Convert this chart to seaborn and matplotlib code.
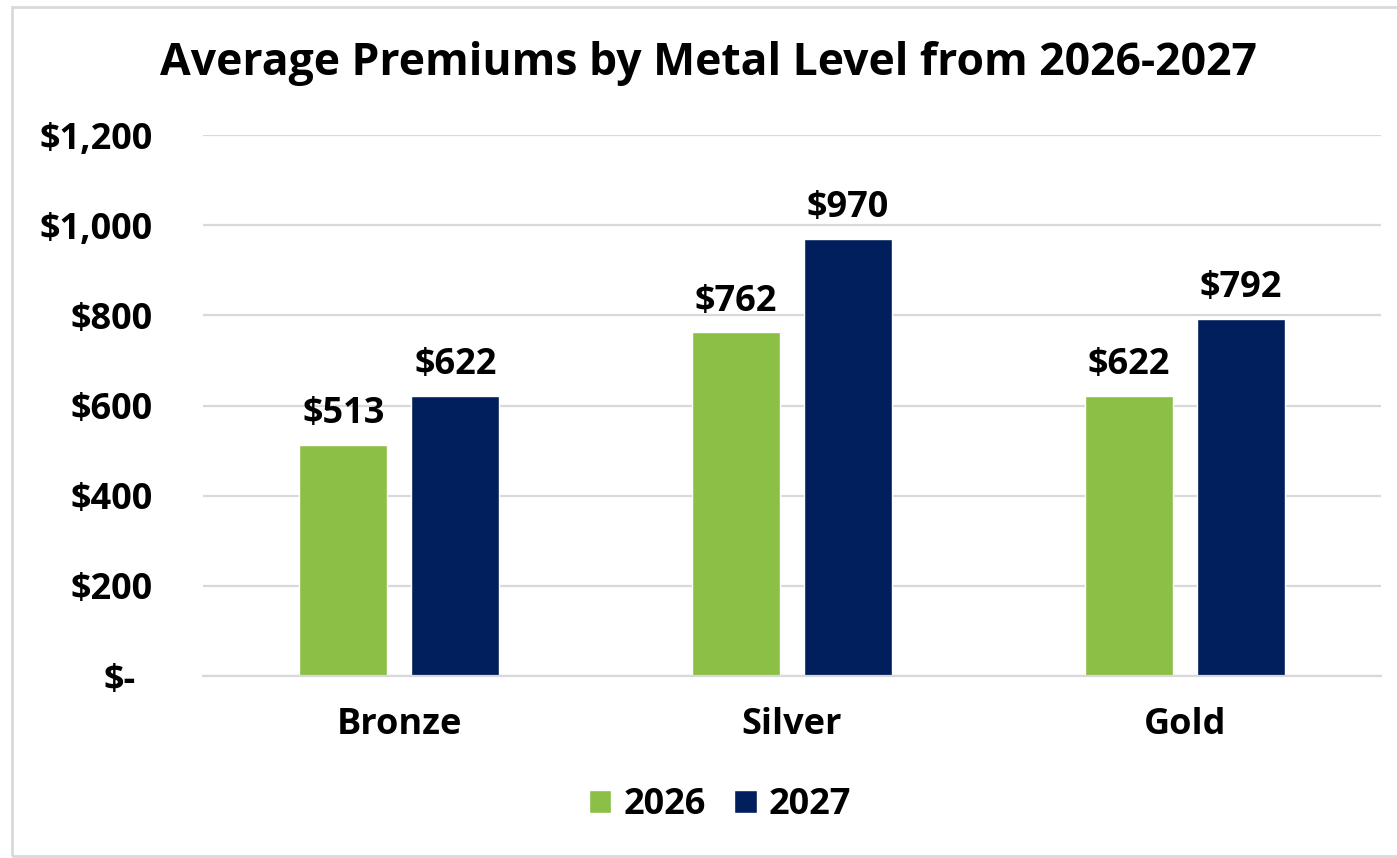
import matplotlib
matplotlib.use("Agg")
import matplotlib.pyplot as plt
import matplotlib.ticker as mticker
import matplotlib.transforms as mtrans
import seaborn as sns
import pandas as pd

metals = ["Bronze", "Silver", "Gold"]
years = ["2026", "2027"]
prem_2026 = [513, 762, 622]
prem_2027 = [622, 970, 792]
y_ticks = [0, 200, 400, 600, 800, 1000, 1200]

GREEN = "#8BBF45"
NAVY = "#001F5C"
GRID = "#D9D9D9"

df = pd.DataFrame({
    "metal": metals * 2,
    "year": [years[0]] * 3 + [years[1]] * 3,
    "premium": prem_2026 + prem_2027,
})

sns.set_theme(style="white")
plt.rcParams["font.family"] = ["Open Sans", "DejaVu Sans"]
plt.rcParams["font.weight"] = "bold"
plt.rcParams["text.color"] = "black"

FS = 26

fig = plt.figure(figsize=(13.97, 8.58), dpi=100)
ax = fig.add_axes([203 / 1397, 1 - 676 / 858, (1381 - 203) / 1397, (676 - 135) / 858])

sns.barplot(data=df, x="metal", y="premium", hue="year", order=metals,
            hue_order=years, palette=[GREEN, NAVY], width=0.57, gap=0.214,
            saturation=1, ax=ax, legend=True)

for cont in ax.containers:
    ax.bar_label(cont, labels=[f"${v:,.0f}" for v in cont.datavalues],
                 padding=9, fontsize=FS, fontweight="bold", color="black")

ax.set_ylim(0, 1200)
ax.set_xlim(-0.5, 2.5)
ax.set_yticks(y_ticks)
ax.yaxis.set_major_formatter(mticker.FuncFormatter(
    lambda v, p: "$-" if v == 0 else f"${v:,.0f}"))
ax.grid(axis="y", color=GRID, linewidth=1.6)
ax.set_axisbelow(True)
for s in ["top", "right", "left"]:
    ax.spines[s].set_visible(False)
ax.spines["bottom"].set_color(GRID)
ax.spines["bottom"].set_linewidth(1.6)
ax.tick_params(axis="y", length=0, pad=36, labelsize=FS, labelcolor="black")
ax.tick_params(axis="x", length=0, pad=22, labelsize=FS, labelcolor="black")
for lab in ax.get_yticklabels() + ax.get_xticklabels():
    lab.set_fontweight("bold")
ax.set_xlabel("")
ax.set_ylabel("")

# shift the "$-" label left like accounting format
t0 = ax.yaxis.get_major_ticks()[0].label1
t0.set_transform(t0.get_transform() + mtrans.ScaledTranslation(-17 / 100, 0, fig.dpi_scale_trans))

handles, labels = ax.get_legend_handles_labels()
ax.get_legend().remove()
fig.legend(handles, labels, loc="center", bbox_to_anchor=(720 / 1397, 1 - 805 / 858),
           ncol=2, frameon=False, prop={"size": FS, "weight": "bold"},
           labelcolor="black",
           handlelength=0.62, handleheight=0.62, handletextpad=0.33,
           columnspacing=0.8)

fig.text(708 / 1397, 1 - 63 / 858, "Average Premiums by Metal Level from 2026-2027",
         ha="center", va="center", fontsize=32, fontweight="bold", color="black")

# outer border
fig.patches.append(plt.Rectangle((12 / 1397, 2 / 858), 1 - 12 / 1397 + 0.01, 1 - 9 / 858,
                                 transform=fig.transFigure, fill=False,
                                 edgecolor="#D9D9D9", linewidth=2, zorder=0))

fig.savefig("out.png", dpi=100, facecolor="white")
